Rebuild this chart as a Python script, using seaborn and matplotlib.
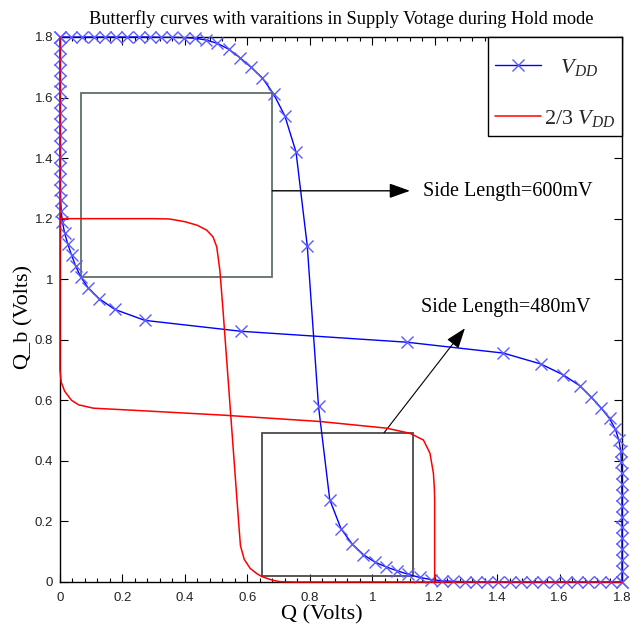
import numpy as np
import pandas as pd
import matplotlib
matplotlib.use("Agg")
import matplotlib.pyplot as plt
import seaborn as sns
from matplotlib.patches import Rectangle
from matplotlib.ticker import MultipleLocator, FixedLocator, FixedFormatter

# ---------------- data ----------------
# input sweep (Volts) at which the VDD transfer curve was sampled
q_sweep = [0.000, 0.036, 0.072, 0.108, 0.144, 0.180, 0.216, 0.252, 0.288, 0.324,
           0.360, 0.396, 0.432, 0.468, 0.504, 0.540, 0.576, 0.612, 0.648, 0.684,
           0.720, 0.756, 0.792, 0.828, 0.864, 0.900, 0.936, 0.972, 1.008, 1.044,
           1.080, 1.116, 1.152, 1.188, 1.224, 1.260, 1.296, 1.332, 1.368, 1.404,
           1.440, 1.476, 1.512, 1.548, 1.584, 1.620, 1.656, 1.692, 1.728, 1.764,
           1.800]
# output of the VDD inverter
vdd_out = [1.800, 1.800, 1.800, 1.800, 1.800, 1.800, 1.800, 1.800, 1.800, 1.799,
           1.799, 1.798, 1.796, 1.790, 1.779, 1.760, 1.732, 1.700, 1.665, 1.612,
           1.540, 1.420, 1.110, 0.580, 0.272, 0.176, 0.125, 0.090, 0.066, 0.050,
           0.037, 0.025, 0.015, 0.008, 0.004, 0.002, 0.001, 0.000, 0.000, 0.000,
           0.000, 0.000, 0.000, 0.000, 0.000, 0.000, 0.000, 0.000, 0.000, 0.000,
           0.000]

# 2/3 VDD curves (Q, Q_b)
red1_q = [0.000, 0.300, 0.350, 0.400, 0.440, 0.470, 0.490, 0.502, 0.512, 0.522,
          0.532, 0.542, 0.552, 0.562, 0.572, 0.578, 0.590, 0.609, 0.630, 0.646,
          0.680, 0.705, 0.750, 1.800]
red1_qb = [1.200, 1.200, 1.199, 1.190, 1.178, 1.162, 1.140, 1.107, 1.030, 0.900,
           0.760, 0.620, 0.480, 0.340, 0.200, 0.120, 0.075, 0.045, 0.028, 0.018,
           0.006, 0.001, 0.000, 0.000]
red2_q = [1.200, 1.200, 1.199, 1.196, 1.185, 1.164, 1.121, 1.046, 0.833, 0.523,
          0.256, 0.107, 0.060, 0.037, 0.015, 0.004, 0.000, 0.000]
red2_qb = [0.000, 0.270, 0.310, 0.359, 0.425, 0.469, 0.491, 0.508, 0.530, 0.551,
           0.566, 0.574, 0.585, 0.600, 0.630, 0.660, 0.700, 1.800]

# noise-margin squares: (x0, y0, side_x, side_y)
square_600 = (0.067, 1.008, 0.613, 0.608)
square_480 = (0.648, 0.020, 0.484, 0.473)

tick_vals = [0, 0.2, 0.4, 0.6, 0.8, 1.0, 1.2, 1.4, 1.6, 1.8]
tick_labels = ["0", "0.2", "0.4", "0.6", "0.8", "1", "1.2", "1.4", "1.6", "1.8"]

title = "Butterfly curves with varaitions in Supply Votage during Hold mode"
leg_labels = ["   $V_{DD}$", "2/3 $V_{DD}$"]
ann_600 = "Side Length=600mV"
ann_480 = "Side Length=480mV"

# ---------------- style ----------------
sns.set_theme(style="white")
plt.rcParams["font.family"] = ["Liberation Serif", "DejaVu Serif"]
plt.rcParams["mathtext.fontset"] = "custom"
plt.rcParams["mathtext.rm"] = "Liberation Serif"
plt.rcParams["mathtext.it"] = "Liberation Serif:italic"
plt.rcParams["axes.edgecolor"] = "black"
plt.rcParams["axes.linewidth"] = 1.0

fig = plt.figure(figsize=(6.3, 6.27), dpi=100)
fig.patch.set_facecolor("white")
ax = fig.add_axes([0.0952, 0.0718, 0.8921, 0.8692])
ax.set_facecolor("white")

df_vdd = pd.DataFrame({"Q": q_sweep, "Qb": vdd_out})
df_r1 = pd.DataFrame({"Q": red1_q, "Qb": red1_qb})
df_r2 = pd.DataFrame({"Q": red2_q, "Qb": red2_qb})

blue_kw = dict(color="#0000ff", marker="x", markersize=9, markeredgecolor="#5a5aff",
               markeredgewidth=1.0, linewidth=1.0, sort=False, estimator=None, ax=ax)
sns.lineplot(data=df_vdd, x="Q", y="Qb", **blue_kw)
sns.lineplot(data=df_vdd, x="Qb", y="Q", **blue_kw)
red_kw = dict(color="#ff0000", linewidth=1.1, sort=False, estimator=None, ax=ax)
sns.lineplot(data=df_r1, x="Q", y="Qb", **red_kw)
sns.lineplot(data=df_r2, x="Q", y="Qb", **red_kw)

lines = ax.get_lines()
for i, ln in enumerate(lines):
    ln.set_clip_on(False)
    ln.set_zorder(3 if i < 2 else 4)

ax.add_patch(Rectangle(square_600[:2], square_600[2], square_600[3], fill=False,
                       edgecolor="#5f6f68", linewidth=1.3, zorder=2))
ax.add_patch(Rectangle(square_480[:2], square_480[2], square_480[3], fill=False,
                       edgecolor="#4a4a4a", linewidth=1.3, zorder=2))

ax.annotate("", xy=(1.121, 1.292), xytext=(0.680, 1.292),
            arrowprops=dict(arrowstyle="-|>,head_length=0.7,head_width=0.25",
                            color="black", lw=1.0, shrinkA=0, shrinkB=0,
                            mutation_scale=18))
ax.annotate("", xy=(1.297, 0.838), xytext=(1.038, 0.493),
            arrowprops=dict(arrowstyle="-|>,head_length=0.7,head_width=0.25",
                            color="black", lw=0.8, shrinkA=0, shrinkB=0,
                            mutation_scale=18))
ax.text(1.162, 1.275, ann_600, fontsize=14.5, ha="left", va="baseline", color="black")
ax.text(1.155, 0.893, ann_480, fontsize=14.5, ha="left", va="baseline", color="black")

ax.set_xlim(0, 1.8)
ax.set_ylim(0, 1.8)
ax.xaxis.set_major_locator(FixedLocator(tick_vals))
ax.xaxis.set_major_formatter(FixedFormatter(tick_labels))
ax.yaxis.set_major_locator(FixedLocator(tick_vals))
ax.yaxis.set_major_formatter(FixedFormatter(tick_labels))
ax.xaxis.set_minor_locator(MultipleLocator(0.04))
ax.tick_params(which="both", direction="in", top=True, right=True, bottom=True, left=True,
               colors="black", width=0.8)
ax.tick_params(which="major", length=6)
ax.tick_params(which="minor", length=3)
ax.tick_params(axis="x", which="major", pad=7, labelsize=9.5, labelcolor="#222222")
ax.tick_params(axis="y", which="major", pad=5, labelsize=9.5, labelcolor="#222222")
for lab in ax.get_xticklabels() + ax.get_yticklabels():
    lab.set_family(["Liberation Sans", "DejaVu Sans"])

ax.set_xlabel("Q (Volts)", fontsize=16, color="black")
ax.set_ylabel("Q_b (Volts)", fontsize=16, color="black")
ax.xaxis.set_label_coords(0.466, -0.043)
ax.yaxis.set_label_coords(-0.048, 0.486)
ax.set_title(title, fontsize=13.2, color="black", pad=9)

leg = ax.legend([lines[0], lines[2]], leg_labels, loc="upper right", fontsize=16,
                frameon=True, fancybox=False, borderaxespad=0, borderpad=0.3,
                labelspacing=1.37, handlelength=2.1, handletextpad=0.1,
                numpoints=1, framealpha=1, title=" ", title_fontsize=10)
# blank title only adds top padding; no extra gap between it and the entries
leg._legend_box.sep = 0
leg.get_frame().set_edgecolor("black")
leg.get_frame().set_linewidth(1.0)
leg.set_zorder(10)

for s in ax.spines.values():
    s.set_visible(True)
    s.set_color("black")
    s.set_linewidth(1.0)

fig.savefig("out.png", dpi=100, facecolor="white")
